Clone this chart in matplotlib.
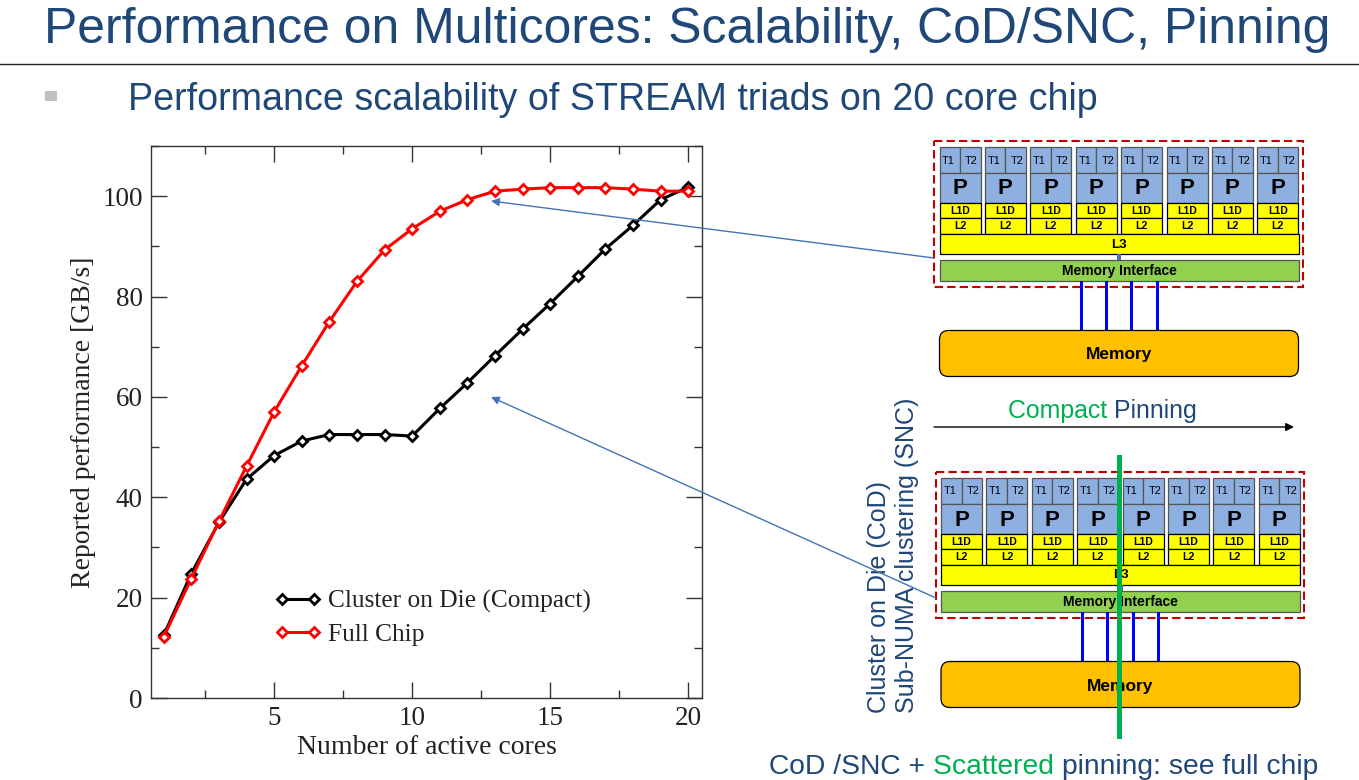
# Slide: STREAM triads scalability, chart plus chip diagrams
import matplotlib
matplotlib.use("Agg")
import matplotlib.pyplot as plt
from matplotlib.patches import Rectangle, FancyBboxPatch

W, H = 1359, 780

# chart data
cores = list(range(1, 21))
cod_compact = [12.5, 24.8, 35.0, 43.6, 48.3, 51.2, 52.5, 52.5, 52.5, 52.2,
               57.7, 62.8, 68.2, 73.5, 78.6, 84.0, 89.5, 94.2, 99.3, 101.8]
full_chip = [12.2, 23.8, 35.2, 46.2, 57.0, 66.2, 75.0, 83.0, 89.3, 93.5,
             97.0, 99.3, 101.0, 101.4, 101.7, 101.7, 101.7, 101.4, 101.0, 101.0]
series_names = ["Cluster on Die (Compact)", "Full Chip"]
x_ticks = [5, 10, 15, 20]
y_ticks = [0, 20, 40, 60, 80, 100]

# texts
title = "Performance on Multicores: Scalability, CoD/SNC, Pinning"
subtitle = "Performance scalability of STREAM triads on 20 core chip"

NAVY = "#1F4778"
GREEN = "#00B050"
ARROW = "#4472B4"
SANS = "Liberation Sans"
SERIF = "Liberation Serif"

fig = plt.figure(figsize=(W / 100, H / 100), dpi=100, facecolor="white")

# the chart itself
ax = fig.add_axes([151 / W, 1 - 698 / H, 551 / W, 552 / H])
ax.plot(cores, cod_compact, color="black", lw=2.2, marker="D", ms=5.6, mfc="white",
        mec="black", mew=2, label=series_names[0])
ax.plot(cores, full_chip, color="#FF0000", lw=2.2, marker="D", ms=5.6, mfc="white",
        mec="#FF0000", mew=2, label=series_names[1])
ax.set_xlim(0.54, 20.5)
ax.set_ylim(0, 110)
ax.set_xticks(x_ticks)
ax.set_xticks([2.5, 7.5, 12.5, 17.5], minor=True)
ax.set_yticks(y_ticks)
ax.set_yticks([10, 30, 50, 70, 90, 110], minor=True)
ax.tick_params(which="major", direction="in", length=11.5, width=1, top=True, right=True,
               color="#333333", labelsize=19.5, labelcolor="#222222", pad=6)
ax.tick_params(which="minor", direction="in", length=6, width=1, top=True, right=True,
               color="#333333")
for lab in ax.get_xticklabels() + ax.get_yticklabels():
    lab.set_family(SERIF)
for sp in ax.spines.values():
    sp.set_color("#333333")
    sp.set_linewidth(1)
ax.set_xlabel("Number of active cores", family=SERIF, fontsize=20, color="#222222", va="center")
ax.set_ylabel("Reported performance [GB/s]", family=SERIF, fontsize=20, color="#222222", va="center")
ax.xaxis.set_label_coords(0.5, -0.09)
ax.yaxis.set_label_coords(-0.122, 0.5)
leg = ax.legend(loc="lower left", bbox_to_anchor=(0.205, 0.076), frameon=False, numpoints=2,
                handlelength=1.86, handletextpad=0.26, labelspacing=0.4, borderaxespad=0,
                prop={"family": SERIF, "size": 18.3})
for t in leg.get_texts():
    t.set_color("#222222")

# overlay in pixel coordinates for the slide furniture
ov = fig.add_axes([0, 0, 1, 1], facecolor="none")
ov.set_xlim(0, W)
ov.set_ylim(H, 0)
ov.axis("off")


def rect(x0, y0, x1, y1, fc, ec="black", lw=0.9, z=2):
    ov.add_patch(Rectangle((x0, y0), x1 - x0, y1 - y0, fc=fc, ec=ec, lw=lw, zorder=z))


def label(x, y, s, size, z=3, **kw):
    ov.text(x, y, s, fontsize=size, family=SANS, ha="center", va="center", zorder=z, **kw)


def chip(dx, dy):
    # dashed socket outline
    ov.add_patch(Rectangle((934 + dx, 141 + dy), 368.5, 146, fc="none", ec="#C00000",
                           lw=1.5, ls=(0, (4, 2)), zorder=2))
    for i in range(8):
        x0 = 939.5 + dx + i * 45.4
        x1 = x0 + 41
        xm = x0 + 20.5
        rect(x0, 147 + dy, xm, 173 + dy, "#8DB0E0", ec="#555555")
        rect(xm, 147 + dy, x1, 173 + dy, "#8DB0E0", ec="#555555")
        rect(x0, 173 + dy, x1, 203 + dy, "#8DB0E0", ec="#555555")
        rect(x0, 203 + dy, x1, 218 + dy, "#FFFF00")
        rect(x0, 218 + dy, x1, 234 + dy, "#FFFF00")
        label(x0 + 9, 160.5 + dy, "T1", 7.8)
        label(x0 + 32, 160.5 + dy, "T2", 7.8)
        label(xm, 189 + dy, "P", 16, weight="bold")
        label(xm, 211 + dy, "L1D", 7.6, weight="bold")
        label(xm, 226 + dy, "L2", 7.6, weight="bold")
    rect(939.5 + dx, 234 + dy, 1298.5 + dx, 254 + dy, "#FFFF00")
    label(1119 + dx, 244.5 + dy, "L3", 9.5, weight="bold")
    rect(1117 + dx, 254 + dy, 1121 + dx, 260 + dy, "#4472B4", ec="none")
    rect(939.5 + dx, 259.5 + dy, 1298.5 + dx, 280.5 + dy, "#92D050", ec="#555555")
    label(1119 + dx, 271 + dy, "Memory Interface", 10, weight="bold")
    for bx in [1081, 1106, 1131.5, 1157]:
        rect(bx - 1.5 + dx, 280.5 + dy, bx + 1.5 + dx, 331 + dy, "#0000FF", ec="none")
    ov.add_patch(FancyBboxPatch((939.5 + dx, 330.5 + dy), 359, 46,
                                boxstyle="round,pad=0,rounding_size=9", fc="#FFC000", ec="black", lw=0.9, zorder=2))
    label(1119 + dx, 355 + dy, "Memory", 12.5, weight="bold")


def ov_width(s, size, rend):
    # trailing blanks are not in the extent, so measure with a stand-in
    probe = ov.text(0, 0, s.replace(" ", "\u00a0"), fontsize=size, family=SANS)
    w = probe.get_window_extent(rend).width
    probe.remove()
    return w


def colored_text(x, y, parts, size):
    # run of differently coloured words on one baseline
    rend = fig.canvas.get_renderer()
    for s, c in parts:
        ov.text(x, y, s, fontsize=size, family=SANS, color=c, va="baseline", ha="left", zorder=5)
        x += ov_width(s, size, rend)


# header
ov.text(44, 43, title, fontsize=35.9, family=SANS, color=NAVY, va="baseline", ha="left")
ov.plot([0, W], [64, 64], color="#222222", lw=1)
rect(45, 91, 57, 101, "#BFBFBF", ec="none")
ov.text(128, 110, subtitle, fontsize=27.05, family=SANS, color=NAVY, va="baseline", ha="left")

chip(0, 0)
chip(1.5, 331)

# side captions
colored_text(1008, 418, [("Compact ", GREEN), ("Pinning", NAVY)], 17.9)
ov.annotate("", xy=(1294, 427), xytext=(934, 427),
            arrowprops=dict(arrowstyle="-|>", color="black", lw=1, mutation_scale=12, shrinkA=0, shrinkB=0))
ov.text(879, 713, "Cluster on Die (CoD)", rotation=90, fontsize=18, family=SANS, color=NAVY,
        ha="center", va="bottom", zorder=4)
ov.text(907, 713, "Sub-NUMA clustering (SNC)", rotation=90, fontsize=18, family=SANS, color=NAVY,
        ha="center", va="bottom", zorder=4)
colored_text(769, 774, [("CoD /SNC + ", NAVY), ("Scattered ", GREEN), ("pinning: see full chip", NAVY)], 20.3)

# green divider through the second chip
rect(1116.5, 455, 1121.5, 739, GREEN, ec="none", z=6)

# call-out arrows to the curves
for start, end in [((934, 258), (491, 201)), ((936, 598), (491, 397))]:
    ov.annotate("", xy=end, xytext=start, zorder=7,
                arrowprops=dict(arrowstyle="-|>", color=ARROW, lw=1, mutation_scale=12, shrinkA=0, shrinkB=0))

fig.savefig("out.png", dpi=100)
